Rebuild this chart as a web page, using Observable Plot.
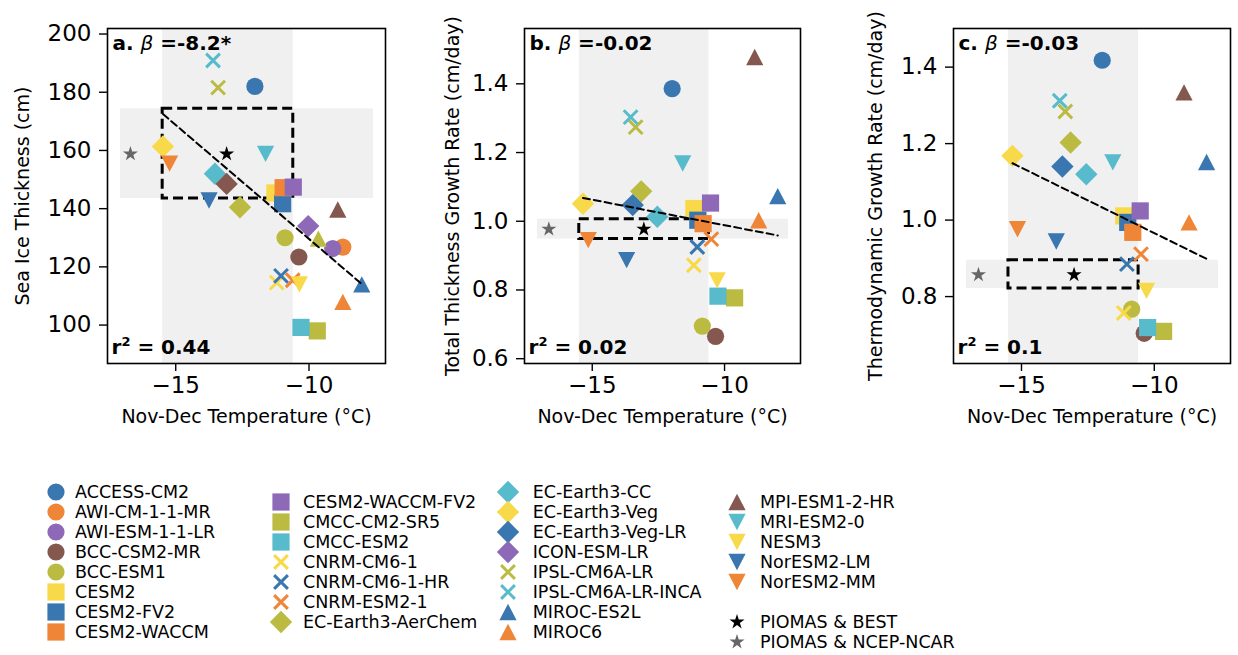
<!DOCTYPE html>
<html><head><meta charset="utf-8">
<script src="https://cdn.jsdelivr.net/npm/d3@7"></script>
<script src="https://cdn.jsdelivr.net/npm/@observablehq/plot@0.6"></script>
<style>
html,body{margin:0;padding:0;background:#fff;}
#root{position:relative;width:1238px;height:655px;font-family:"DejaVu Sans",sans-serif;overflow:hidden;}
.panel{position:absolute;top:0;}
.leg{position:absolute;font-size:17.5px;line-height:20px;white-space:nowrap;color:#000;display:flex;align-items:center;}
</style></head><body><div id="root"></div>
<script>
// ---------------- DATA ----------------
const models = ["ACCESS-CM2","AWI-CM-1-1-MR","AWI-ESM-1-1-LR","BCC-CSM2-MR","BCC-ESM1","CESM2","CESM2-FV2","CESM2-WACCM",
  "CESM2-WACCM-FV2","CMCC-CM2-SR5","CMCC-ESM2","CNRM-CM6-1","CNRM-CM6-1-HR","CNRM-ESM2-1","EC-Earth3-AerChem",
  "EC-Earth3-CC","EC-Earth3-Veg","EC-Earth3-Veg-LR","ICON-ESM-LR","IPSL-CM6A-LR","IPSL-CM6A-LR-INCA","MIROC-ES2L","MIROC6",
  "MPI-ESM1-2-HR","MRI-ESM2-0","NESM3","NorESM2-LM","NorESM2-MM","unlabelled-1","unlabelled-2"];
const inLegend = models.map((m,i)=> i < 28);

// Panel a: Nov-Dec temperature (°C) and sea ice thickness (cm)
const tempA  = [-12.03,-8.73,-9.11,-10.38,-10.90,-11.28,-10.99,-10.97,-10.59,-9.69,-10.30,-11.21,-11.05,-10.61,-12.59,
                -13.53,-15.48,null,-10.03,-13.41,-13.60,-8.02,-8.73,-8.92,-11.63,-10.36,-13.75,-15.23,-13.09,-9.65];
const thickA = [182.0,126.8,126.3,123.4,130.0,145.4,141.7,147.2,147.4,98.0,99.2,114.6,116.9,115.4,140.5,
                152.0,161.4,null,134.0,181.6,190.9,114.0,108.0,139.7,158.8,114.0,142.8,155.5,148.5,129.7];
// Panel b: total thickness growth rate (cm/day)
const tempB  = [-11.98,null,null,-10.34,-10.84,-11.16,-11.01,-10.81,-10.53,-9.62,-10.25,-11.16,-11.03,-10.50,-13.15,
                -12.54,-15.35,-13.47,null,-13.36,-13.55,-7.99,-8.71,-8.86,-11.58,-10.28,-13.70,-15.15,null,null];
const growB  = [1.386,null,null,0.665,0.695,1.037,1.003,0.993,1.053,0.777,0.782,0.872,0.925,0.948,1.087,
                1.013,1.051,1.047,null,1.274,1.303,1.073,1.003,1.478,1.168,0.828,0.887,0.945,null,null];
// Panel c: thermodynamic growth rate (cm/day)
const tempC  = [-11.96,null,null,-10.38,-10.85,-11.15,-11.00,-10.81,-10.53,-9.65,-10.25,-11.15,-11.03,-10.50,-13.15,
                -12.56,-15.34,-13.46,null,-13.35,-13.56,-8.03,-8.69,-8.88,-11.56,-10.29,-13.69,-15.15,null,null];
const thermoC= [1.418,null,null,0.704,0.767,1.011,0.994,0.968,1.024,0.709,0.719,0.757,0.885,0.911,1.203,
                1.120,1.168,1.140,null,1.284,1.312,1.152,0.994,1.334,1.151,0.815,0.944,0.976,null,null];

// Observations
const obsNames = ["PIOMAS & BEST","PIOMAS & NCEP-NCAR"];
const obsTempA = [-13.09,-16.70], obsThickA = [158.8,158.8];
const obsTempB = [-13.05,-16.64], obsGrowB  = [0.977,0.977];
const obsTempC = [-13.02,-16.62], obsThermoC= [0.857,0.857];
// Observational uncertainty ranges
const obsTempRange = [-15.49,-10.59];
const obsBandTemp  = [-17.07,-7.58];
const obsRangeA = [143.5,174.3], obsRangeB = [0.948,1.006], obsRangeC = [0.821,0.895];
// Regression fits (slope, intercept) and stats
const fitSlope = [-7.83,-0.01485,-0.0342];
const fitIntercept = [51.3,0.840,0.624];
const betaText = ["-8.2*","-0.02","-0.03"];
const r2Text = ["0.44","0.02","0.1"];
// Ticks
const xTicks = [-15,-10];
const yTicksA = [100,120,140,160,180,200];
const yTicksB = [0.6,0.8,1.0,1.2,1.4];
const yTicksC = [0.8,1.0,1.2,1.4];

// ---------------- STYLES ----------------
const C = {blue:"#3a76af", orange:"#ef8536", purple:"#8d69b8", brown:"#84584e", olive:"#bbbb41", yellow:"#f8d94a", cyan:"#57bbcc"};
const modelColors = [C.blue,C.orange,C.purple,C.brown,C.olive,C.yellow,C.blue,C.orange,C.purple,C.olive,C.cyan,C.yellow,C.blue,C.orange,C.olive,
  C.cyan,C.yellow,C.blue,C.purple,C.olive,C.cyan,C.blue,C.orange,C.brown,C.cyan,C.yellow,C.blue,C.orange,C.brown,C.olive];
const modelMarkers = ["circle","circle","circle","circle","circle","square","square","square","square","square","square","x","x","x","diamond",
  "diamond","diamond","diamond","diamond","x","x","triUp","triUp","triUp","triDown","triDown","triDown","triDown","diamond","triUp"];
const obsColors = ["#000000","#666666"];

function mk(f){ return {draw(ctx,size){ const s=Math.sqrt(size/Math.PI); f(ctx,s); }}; }
const SYM = {
  circle: mk((c,s)=>{ c.moveTo(s,0); c.arc(0,0,s,0,2*Math.PI); }),
  square: mk((c,s)=>{ c.rect(-s,-s,2*s,2*s); }),
  diamond: mk((c,s)=>{ const d=s*1.3; c.moveTo(0,-d); c.lineTo(d,0); c.lineTo(0,d); c.lineTo(-d,0); c.closePath(); }),
  triUp: mk((c,s)=>{ const h=s*0.95; c.moveTo(0,-h); c.lineTo(s,h); c.lineTo(-s,h); c.closePath(); }),
  triDown: mk((c,s)=>{ const h=s*0.95; c.moveTo(0,h); c.lineTo(s,-h); c.lineTo(-s,-h); c.closePath(); }),
  x: mk((c,s)=>{ const d=s*0.8; c.moveTo(-d,-d); c.lineTo(d,d); c.moveTo(-d,d); c.lineTo(d,-d); }),
  star: mk((c,s)=>{ const R=s*0.92, r=R*0.382; for(let k=0;k<10;k++){ const a=-Math.PI/2+k*Math.PI/5, rr=k%2?r:R; const px=rr*Math.cos(a), py=rr*Math.sin(a); k?c.lineTo(px,py):c.moveTo(px,py);} c.closePath(); })
};
const R = 8.6;
const xDomain = [-17.56,-7.13];
const minusFmt = d => (d<0?"\u2212":"") + Math.abs(d);
const GRAY = "#f0f0f0";

function dotMark(data, color, marker){
  const isX = marker === "x";
  return Plot.dot(data, {x:"t", y:"v", r:R, symbol:SYM[marker], fill: isX?"none":color, stroke: isX?color:"none", strokeWidth: isX?3:0});
}

function makePanel(o){
  const rows = models.map((name,i)=>({name, i, t:o.temps[i], v:o.vals[i]})).filter(d=>d.t!=null && d.v!=null);
  const xmin = d3.min(rows,d=>d.t), xmax = d3.max(rows,d=>d.t);
  const fitRows = [xmin,xmax].map(x=>({x, y:o.slope*x+o.intercept}));
  const marks = [
    Plot.rect([obsTempRange], {x1:d=>d[0], x2:d=>d[1], y1:()=>o.yDomain[0], y2:()=>o.yDomain[1], fill:GRAY}),
    Plot.rect([o.obsRange], {x1:()=>obsBandTemp[0], x2:()=>obsBandTemp[1], y1:d=>d[0], y2:d=>d[1], fill:GRAY}),
    Plot.rect([o.obsRange], {x1:()=>obsTempRange[0], x2:()=>obsTempRange[1], y1:d=>d[0], y2:d=>d[1], fill:"none", stroke:"black", strokeWidth:3, strokeDasharray:"10,5"}),
  ];
  rows.forEach(d => marks.push(dotMark([d], modelColors[d.i], modelMarkers[d.i])));
  obsNames.forEach((n,k) => marks.push(Plot.dot([{t:o.obsT[k], v:o.obsV[k]}], {x:"t", y:"v", r:R, symbol:SYM.star, fill:obsColors[k]})));
  marks.push(Plot.line(fitRows, {x:"x", y:"y", stroke:"black", strokeWidth:2, strokeDasharray:"7,4"}));
  marks.push(Plot.axisX({ticks:xTicks, tickSize:8, tickPadding:5, tickFormat:minusFmt, label:null, fontSize:23, strokeWidth:1.4}));
  marks.push(Plot.axisY({ticks:o.yTicks, tickSize:8, tickPadding:8, tickFormat:o.yFmt, label:null, fontSize:23, strokeWidth:1.4}));
  marks.push(Plot.text(["Nov-Dec Temperature (°C)"], {frameAnchor:"bottom", dy:59, fontSize:19, textAnchor:"middle"}));
  marks.push(Plot.text([o.yLabel], {frameAnchor:"left", rotate:-90, dx:o.yLabelDx, fontSize:19, textAnchor:"middle"}));
  marks.push(Plot.text([o.tag + " β =" + o.beta], {frameAnchor:"top-left", dx:5, dy:7, lineAnchor:"top", textAnchor:"start", fontWeight:"bold", fontSize:20}));
  marks.push(Plot.text(["r² = " + o.r2], {frameAnchor:"bottom-left", dx:4, dy:-10, lineAnchor:"bottom", textAnchor:"start", fontWeight:"bold", fontSize:20}));
  marks.push(Plot.frame({stroke:"black", strokeWidth:1.6}));
  const svg = Plot.plot({
    width:o.width, height:440, marginLeft:o.marginLeft, marginRight:o.marginRight, marginTop:28, marginBottom:77,
    x:{domain:xDomain}, y:{domain:o.yDomain},
    style:{fontFamily:"DejaVu Sans, sans-serif", fontSize:"23px", color:"black", background:"transparent", overflow:"visible"},
    marks
  });
  // italic beta, superscript 2
  d3.select(svg).selectAll("text").each(function(){
    const t = this.textContent;
    if (t.includes("β") && this.childElementCount===0){
      const [pre,post] = t.split("β");
      const s = d3.select(this).style("white-space","pre"); s.text(null);
      s.append("tspan").text(pre);
      s.append("tspan").attr("font-style","italic").attr("font-weight","normal").text("β");
      s.append("tspan").text(post);
    } else if (t.startsWith("r²") && this.childElementCount===0){
      const s = d3.select(this).style("white-space","pre"); s.text(null);
      s.append("tspan").text("r");
      s.append("tspan").attr("font-size","13px").attr("dy","-8").text("2");
      s.append("tspan").attr("dy","8").text(t.slice(2));
    }
  });
  const div = document.createElement("div");
  div.className = "panel"; div.style.left = o.left + "px";
  div.appendChild(svg);
  return div;
}

const root = document.getElementById("root");
root.appendChild(makePanel({left:0, width:400, marginLeft:107, marginRight:15, yDomain:[86.8,201.9], yTicks:yTicksA, yFmt:d3.format("d"),
  temps:tempA, vals:thickA, obsT:obsTempA, obsV:obsThickA, obsRange:obsRangeA, slope:fitSlope[0], intercept:fitIntercept[0],
  yLabel:"Sea Ice Thickness (cm)", yLabelDx:-85, tag:"a.", beta:betaText[0], r2:r2Text[0]}));
root.appendChild(makePanel({left:410, width:400, marginLeft:114, marginRight:10, yDomain:[0.586,1.561], yTicks:yTicksB, yFmt:d3.format(".1f"),
  temps:tempB, vals:growB, obsT:obsTempB, obsV:obsGrowB, obsRange:obsRangeB, slope:fitSlope[1], intercept:fitIntercept[1],
  yLabel:"Total Thickness Growth Rate (cm/day)", yLabelDx:-72, tag:"b.", beta:betaText[1], r2:r2Text[1]}));
root.appendChild(makePanel({left:830, width:408, marginLeft:123, marginRight:8, yDomain:[0.625,1.501], yTicks:yTicksC, yFmt:d3.format(".1f"),
  temps:tempC, vals:thermoC, obsT:obsTempC, obsV:obsThermoC, obsRange:obsRangeC, slope:fitSlope[2], intercept:fitIntercept[2],
  yLabel:"Thermodynamic Growth Rate (cm/day)", yLabelDx:-78, tag:"c.", beta:betaText[2], r2:r2Text[2]}));

// ---------------- LEGEND ----------------
const legItems = [];
models.forEach((m,i)=>{ if(inLegend[i]) legItems.push({label:m, color:modelColors[i], marker:modelMarkers[i]}); });
legItems.push(null);
obsNames.forEach((n,k)=> legItems.push({label:n, color:obsColors[k], marker:"star"}));
const legCols = [
  {start:0, n:8, top:491.7, mx:56, tx:75},
  {start:8, n:7, top:501.7, mx:280.7, tx:303},
  {start:15, n:8, top:491.7, mx:508, tx:532.7},
  {start:23, n:8, top:501.7, mx:736.7, tx:760}
];
legCols.forEach(col=>{
  for(let k=0;k<col.n;k++){
    const it = legItems[col.start+k]; if(!it) continue;
    const cy = col.top + k*20.05;
    const el = document.createElement("div");
    el.className = "leg";
    el.style.left = col.tx + "px"; el.style.top = (cy-10) + "px"; el.style.height = "20px";
    el.textContent = it.label;
    root.appendChild(el);
    const sv = d3.select(root).append("svg").attr("width",30).attr("height",30)
      .style("position","absolute").style("left",(col.mx-15)+"px").style("top",(cy-15)+"px").style("overflow","visible");
    const isX = it.marker==="x";
    sv.append("path").attr("transform","translate(15,15)")
      .attr("d", d3.symbol(SYM[it.marker], Math.PI*R*R)())
      .attr("fill", isX?"none":it.color).attr("stroke", isX?it.color:"none").attr("stroke-width", isX?3:0);
  }
});
</script></body></html>
